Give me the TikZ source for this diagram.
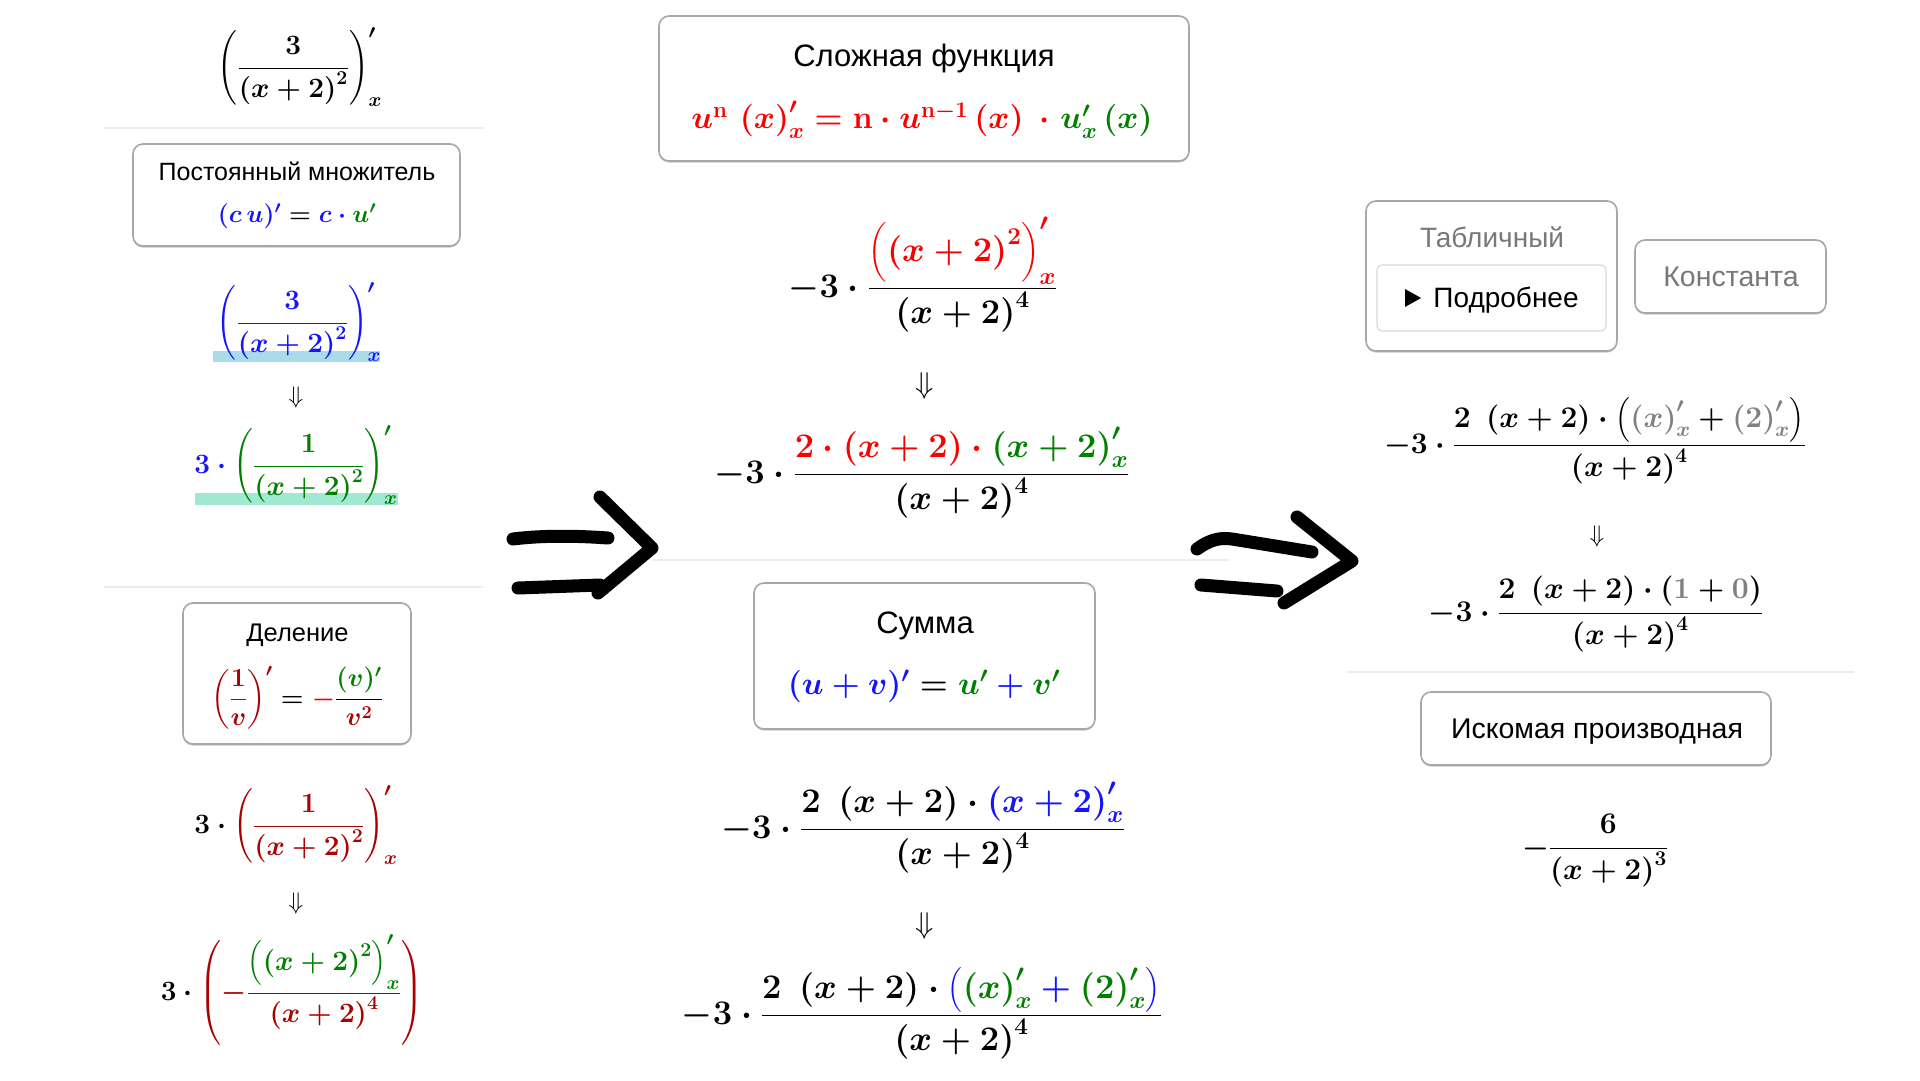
\documentclass[tikz,border=0pt]{standalone}
\usepackage{fix-cm}
\usepackage{amsmath}
\usepackage[no-math]{fontspec}
\newfontfamily\uifont{Liberation Sans}
\usetikzlibrary{shadows}
\definecolor{cred}{RGB}{250,0,0}
\definecolor{cgreen}{RGB}{0,128,0}
\definecolor{cblue}{RGB}{20,20,255}
\definecolor{cdred}{RGB}{170,0,0}
\definecolor{cgray}{RGB}{128,128,128}
\definecolor{cband1}{RGB}{168,220,232}
\definecolor{cband2}{RGB}{160,232,210}
\definecolor{csep}{RGB}{236,236,236}
\definecolor{cbox}{RGB}{168,168,168}
\definecolor{cinner}{RGB}{218,218,218}
\definecolor{clabel}{RGB}{120,120,120}
\newcommand{\bigpar}[1]{\Bigl(#1\Bigr)}
\tikzset{
  rulebox/.style={draw=cbox, line width=1.6pt, rounded corners=10pt, fill=white, inner sep=0pt,
    drop shadow={shadow xshift=0pt, shadow yshift=-1.6pt, opacity=0.22, fill=black}},
  innerbox/.style={draw=cinner, line width=1.2pt, rounded corners=5pt, fill=white, inner sep=0pt},
  uitext/.style={inner sep=0pt, anchor=base, text=black},
  mathL/.style={inner sep=0pt, anchor=base, font=\fontsize{28}{33}\selectfont\boldmath},
  mathM/.style={inner sep=0pt, anchor=base, font=\fontsize{34.5}{40}\selectfont\boldmath},
  mathR/.style={inner sep=0pt, anchor=base, font=\fontsize{30}{36}\selectfont\boldmath},
  mathbox/.style={inner sep=0pt, anchor=center, font=#1\boldmath},
  darr/.style={inner sep=0pt, anchor=center, font=#1},
  sepline/.style={draw=csep, line width=2pt},
  handarrow/.style={draw=black, line width=13pt, line cap=round, line join=round},
}
\begin{document}
\begin{tikzpicture}[x=1pt, y=-1pt]
\fill[white] (0,0) rectangle (1920,1080);
\useasboundingbox (0,0) rectangle (1920,1080);

% ---------- separators ----------
\draw[sepline] (104,128) -- (483,128);
\draw[sepline] (104,587) -- (483,587);
\draw[sepline] (653,560) -- (1229,560);
\draw[sepline] (1347,672) -- (1854,672);

% ---------- left column ----------
\node[mathL] (f0) at (300,75) {$\left(\dfrac{3}{\left(x+2\right)^{2}}\right)'_{x}$};

\node[rulebox, minimum width=327pt, minimum height=102pt] (b1) at (296.5,195) {};
\node[uitext, font=\uifont\fontsize{25}{29}\selectfont] (t1) at (297,180) {Постоянный множитель};
\node[mathbox=\fontsize{25}{29}\selectfont] (r1) at (297,216) {${\color{cblue}(c\,u)'}={\color{cblue}c}\mathbin{\color{cblue}\cdot}{\color{cgreen}u'}$};

\fill[cband1] (213,351) rectangle (380,362);
\node[mathL] (f1) at (299,330) {$\color{cblue}\left(\dfrac{3}{\left(x+2\right)^{2}}\right)'_{x}$};
\node[darr=\fontsize{24}{28}\selectfont] (d1) at (296,397) {$\Downarrow$};
\fill[cband2] (195,493) rectangle (398,505);
\node[mathL] (f2) at (296,473) {${\color{cblue}3}\mathbin{\color{cblue}\cdot}{\color{cgreen}\left(\dfrac{1}{\left(x+2\right)^{2}}\right)'_{x}}$};

\node[rulebox, minimum width=228pt, minimum height=141pt] (b2) at (297,673.5) {};
\node[uitext, font=\uifont\fontsize{25.5}{29}\selectfont] (t2) at (297.5,641) {Деление};
\node[mathbox=\fontsize{26}{30}\selectfont] (r2) at (297,698) {${\color{cdred}\left(\dfrac{1}{v}\right)'}={\color{cred}-}\dfrac{{\color{cgreen}(v)'}}{{\color{cdred}v^{2}}}$};

\node[mathL] (f3) at (296,833) {$3\cdot{\color{cdred}\left(\dfrac{1}{\left(x+2\right)^{2}}\right)'_{x}}$};
\node[darr=\fontsize{24}{28}\selectfont] (d2) at (296,903) {$\Downarrow$};
\node[mathL] (f4) at (292,1000) {\delimiterfactor=800 \delimitershortfall=40pt $3\cdot{\color{cdred}\left(-\dfrac{{\color{cgreen}\bigpar{\left(x+2\right)^{2}}'_{x}}}{\left(x+2\right)^{4}}\right)}$};

% ---------- middle column ----------
\node[rulebox, minimum width=530pt, minimum height=145pt] (b3) at (924,88.5) {};
\node[uitext, font=\uifont\fontsize{31}{36}\selectfont] (t3) at (924,66) {Сложная функция};
\node[mathbox=\fontsize{32}{38}\selectfont] (r3) at (922,120) {${\color{cred}u^{\mathrm{n}}\,\left(x\right)'_{x}=\mathrm{n}\cdot u^{\mathrm{n}-1}\left(x\right)\;\cdot\;}{\color{cgreen}u'_{x}\left(x\right)}$};

\node[mathM] (f5) at (923,297) {$-3\cdot\dfrac{{\color{cred}\bigpar{\left(x+2\right)^{2}}'_{x}}}{\left(x+2\right)^{4}}$};
\node[darr=\fontsize{30}{34}\selectfont] (d3) at (925,386) {$\Downarrow$};
\node[mathM] (f6) at (922,483) {$-3\cdot\dfrac{{\color{cred}2\cdot\left(x+2\right)}\mathbin{\color{cred}\cdot}{\color{cgreen}\left(x+2\right)'_{x}}}{\left(x+2\right)^{4}}$};

\node[rulebox, minimum width=341pt, minimum height=146pt] (b4) at (924.5,656) {};
\node[uitext, font=\uifont\fontsize{31}{36}\selectfont] (t4) at (925,633) {Сумма};
\node[mathbox=\fontsize{32}{38}\selectfont] (r4) at (924,686) {${\color{cblue}(u+v)'}={\color{cgreen}u'}\mathbin{\color{cblue}+}{\color{cgreen}v'}$};

\node[mathM] (f7) at (923,838) {$-3\cdot\dfrac{2\;\left(x+2\right)\cdot{\color{cblue}\left(x+2\right)'_{x}}}{\left(x+2\right)^{4}}$};
\node[darr=\fontsize{30}{34}\selectfont] (d4) at (925,926) {$\Downarrow$};
\node[mathM] (f8) at (922,1024) {$-3\cdot\dfrac{2\;\left(x+2\right)\cdot{\color{cblue}\bigl(}{\color{cgreen}\left(x\right)'_{x}}\mathbin{\color{cblue}+}{\color{cgreen}\left(2\right)'_{x}}{\color{cblue}\bigr)}}{\left(x+2\right)^{4}}$};

% ---------- right column ----------
\node[rulebox, minimum width=251pt, minimum height=150pt] (b5) at (1491.5,276) {};
\node[uitext, font=\uifont\fontsize{28}{33}\selectfont, text=clabel] (t5) at (1492,247) {Табличный};
\node[innerbox, minimum width=229pt, minimum height=66pt] (b6) at (1491.5,298) {};
\fill (1405,289) -- (1421,298) -- (1405,307) -- cycle;
\node[uitext, font=\uifont\fontsize{28}{33}\selectfont] (t6) at (1506,307) {Подробнее};

\node[rulebox, minimum width=191pt, minimum height=73pt] (b7) at (1730.5,276.5) {};
\node[uitext, font=\uifont\fontsize{28.5}{33}\selectfont, text=clabel] (t7) at (1731,286) {Константа};

\node[mathR] (f9) at (1595,453) {$-3\cdot\dfrac{2\;\left(x+2\right)\cdot\bigl({\color{cgray}\left(x\right)'_{x}}+{\color{cgray}\left(2\right)'_{x}}\bigr)}{\left(x+2\right)^{4}}$};
\node[darr=\fontsize{24}{28}\selectfont] (d5) at (1597,536) {$\Downarrow$};
\node[mathR] (f10) at (1596,621) {$-3\cdot\dfrac{2\;\left(x+2\right)\cdot\left({\color{cgray}1}+{\color{cgray}0}\right)}{\left(x+2\right)^{4}}$};

\node[rulebox, minimum width=350pt, minimum height=73pt] (b8) at (1596,728.5) {};
\node[uitext, font=\uifont\fontsize{28.5}{33}\selectfont] (t8) at (1597,738) {Искомая производная};

\node[mathR] (f11) at (1595,856) {$-\dfrac{6}{\left(x+2\right)^{3}}$};

% ---------- hand-drawn arrows ----------
\draw[handarrow] (513,539) .. controls (545,535) and (580,536) .. (608,538);
\draw[handarrow] (518,588) -- (600,585);
\draw[handarrow] (600,497) -- (652,548) -- (598,593);

\draw[handarrow] (1197,549) .. controls (1208,541) and (1218,537) .. (1232,539) -- (1312,552);
\draw[handarrow] (1201,585) -- (1277,591);
\draw[handarrow] (1297,517) -- (1352,561) -- (1284,603);
\end{tikzpicture}
\end{document}
